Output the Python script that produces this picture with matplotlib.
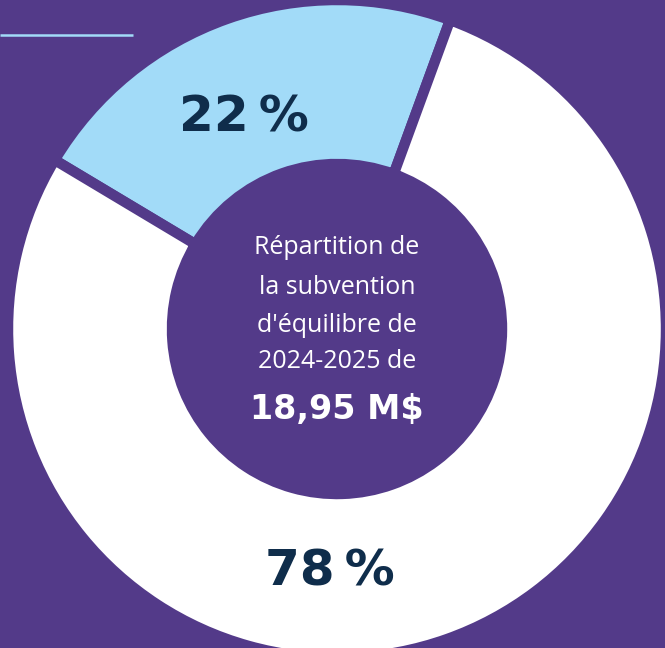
import matplotlib
matplotlib.use("Agg")
import matplotlib.pyplot as plt

# data
shares = [22, 78]
share_labels = ["22\u2009%", "78\u2009%"]
slice_colors = ["#A2DBF8", "#FFFFFF"]
center_lines = ["Répartition de", "la subvention", "d'équilibre de", "2024-2025 de"]
total_label = "18,95 M$"

BG = "#533A89"
NAVY = "#0F2D4B"

W, H = 665, 648
fig = plt.figure(figsize=(W / 100, H / 100), dpi=100)
fig.patch.set_facecolor(BG)
ax = fig.add_axes([0, 0, 1, 1])
ax.set_facecolor(BG)

cx, cy = 337, H - 329
r_out, r_in = 329, 165

# blue slice centred at about 109.5 degrees
start = 109.5 - shares[0] / sum(shares) * 360 / 2
wedges, _ = ax.pie(
    shares,
    colors=slice_colors,
    startangle=start,
    counterclock=True,
    center=(cx, cy),
    radius=r_out,
    wedgeprops=dict(width=r_out - r_in, edgecolor=BG, linewidth=7.5),
)

ax.set_xlim(0, W)
ax.set_ylim(0, H)
ax.set_aspect("equal")
ax.axis("off")

# thin decorative line, top left
ax.plot([0, 133], [H - 35, H - 35], color="#A2DBF8", lw=1.8, solid_capstyle="butt")

# percentage labels
ax.text(244, H - 118, share_labels[0], ha="center", va="center",
        fontsize=36, fontweight="bold", color=NAVY, family="DejaVu Sans")
ax.text(330, H - 571, share_labels[1], ha="center", va="center",
        fontsize=36, fontweight="bold", color=NAVY, family="DejaVu Sans")

# centre text
ys = [248, 287, 325, 362]
for line, y in zip(center_lines, ys):
    ax.text(337, H - y, line, ha="center", va="center",
            fontsize=18, color="white", family="Open Sans")
ax.text(337, H - 410, total_label, ha="center", va="center",
        fontsize=24, fontweight="bold", color="white", family="DejaVu Sans")

fig.savefig("out.png", dpi=100, facecolor=BG)
